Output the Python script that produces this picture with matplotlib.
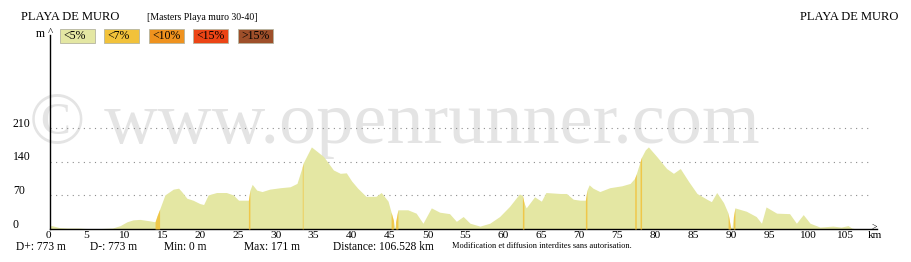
# ------------------------------------------------------------
# Elevation profile : Playa de Muro (openrunner style)
# ------------------------------------------------------------

import numpy as np
import matplotlib.pyplot as plt
import matplotlib.transforms as mtransforms
from matplotlib.patches import Rectangle

# ------------------------------------------------------------
# Step 1 : Data
# ------------------------------------------------------------

distance_km = [0.0, 0.5, 1.0, 1.5, 2.5, 4.0, 5.0, 7.0, 8.5, 9.5,
               10.4, 11.2, 12.1, 13.4, 14.1, 14.4, 14.7, 15.4, 16.5, 17.2,
               17.6, 18.3, 19.1, 20.0, 20.5, 21.1, 22.2, 23.5, 24.4, 25.1,
               26.4, 26.6, 26.9, 27.5, 28.2, 29.2, 30.6, 31.9, 32.8, 33.5,
               33.6, 34.5, 34.7, 36.3, 37.6, 38.5, 39.3, 40.0, 40.8, 41.9,
               43.2, 43.9, 44.8, 45.2, 45.5, 45.7, 45.8, 46.1, 47.4, 48.5,
               49.4, 50.5, 51.6, 52.9, 53.8, 54.7, 55.6, 56.9, 58.2, 59.5,
               60.8, 62.1, 62.5, 62.7, 63.0, 64.1, 65.0, 65.6, 67.5, 68.3,
               69.2, 70.1, 70.8, 71.0, 71.3, 71.8, 72.7, 74.0, 75.6, 76.7,
               77.3, 77.5, 78.0, 78.2, 78.7, 79.1, 80.2, 81.5, 82.4, 83.3,
               84.4, 85.5, 86.8, 87.4, 88.1, 89.0, 89.6, 89.9, 90.1, 90.3,
               90.5, 92.0, 93.3, 94.0, 94.6, 96.0, 97.7, 98.6, 99.5, 100.4,
               101.7, 103.4, 104.5, 105.4, 105.9, 106.5]

elevation_m = [6, 7, 5, 3, 2, 2, 1, 1, 2, 7,
               15, 19, 20, 17, 15, 29, 41, 71, 83, 85,
               78, 64, 60, 53, 51, 71, 76, 76, 71, 60,
               60, 81, 93, 81, 78, 83, 86, 88, 95, 130,
               137, 165, 171, 151, 123, 116, 117, 100, 85, 68,
               68, 76, 58, 35, 18, 2, 15, 40, 40, 33,
               12, 44, 35, 32, 16, 26, 12, 6, 12, 26,
               47, 73, 70, 55, 44, 67, 58, 76, 74, 74,
               62, 60, 60, 81, 92, 85, 78, 86, 90, 95,
               106, 115, 140, 150, 165, 171, 151, 126, 116, 126,
               99, 74, 62, 57, 76, 55, 33, 5, 2, 25,
               44, 37, 26, 12, 46, 33, 32, 12, 30, 12,
               4, 6, 4, 7, 2, 0]

# steeper (<7%) sections, start / end km
steep_sections = [(14.1, 14.7), (26.4, 26.6), (33.5, 33.6), (45.2, 45.5),
                  (45.8, 46.1), (62.5, 62.7), (70.8, 71.0), (77.3, 77.5),
                  (78.0, 78.2), (89.6, 89.9), (90.3, 90.5)]

x_ticks = list(range(0, 110, 5))
y_ticks = [0, 70, 140, 210]

legend_labels = ["<5%", "<7%", "<10%", "<15%", ">15%"]
legend_colors = ["#e4e7a3", "#f2c23a", "#ef921e", "#ec4415", "#9e4f2a"]

stats = ["D+: 773 m", "D-: 773 m", "Min: 0 m", "Max: 171 m",
         "Distance: 106.528 km"]
stats_x = [16, 90, 164, 244, 333]

km = np.array(distance_km)
ele = np.array(elevation_m)

# ------------------------------------------------------------
# Step 2 : Figure and axes (pixel based layout)
# ------------------------------------------------------------

W, H = 912, 262
plt.rcParams["font.family"] = ["Liberation Serif", "DejaVu Serif"]

fig = plt.figure(figsize=(W / 100, H / 100), dpi=100)
fig.patch.set_facecolor("white")


def px(x, y):
    return x / W, 1 - y / H


px_per_km = 7.59
px_per_m = 0.48
x_left = 0.26

ax = fig.add_axes([50 / W, (H - 229) / H, (877 - 50) / W, (229 - 35) / H])
ax.patch.set_alpha(0)
ax.set_xlim(x_left, x_left + (877 - 50) / px_per_km)
ax.set_ylim(0, (229 - 35) / px_per_m)

for side in ["top", "right"]:
    ax.spines[side].set_visible(False)
ax.spines["left"].set_linewidth(1.0)
ax.spines["bottom"].set_linewidth(1.0)
ax.set_xticks([])
ax.set_yticks([])

# ------------------------------------------------------------
# Step 3 : Watermark
# ------------------------------------------------------------

fig.text(*px(29, 143), "\u00a9 www.openrunner.com", fontsize=53.5,
         color="#e4e4e4", ha="left", va="baseline", zorder=-1)

# ------------------------------------------------------------
# Step 4 : Grid lines and profile
# ------------------------------------------------------------

grid_end = (868 - 48) / px_per_km
for v in y_ticks[1:]:
    ax.plot([x_left, grid_end], [v, v], color="#8c8c8c",
            linestyle=(0, (1, 4)), linewidth=0.8, zorder=1)

ax.fill_between(km, ele, 0, color=legend_colors[0], linewidth=0, zorder=2)

for a, b in steep_sections:
    mask = (km >= a) & (km <= b)
    ax.fill_between(km, ele, 0, where=mask, color=legend_colors[1],
                    alpha=0.85, linewidth=0, zorder=3)

# ------------------------------------------------------------
# Step 5 : Axis labels
# ------------------------------------------------------------

label_offset = mtransforms.offset_copy(ax.transData, fig=fig, x=0, y=4.5,
                                       units="dots")
y_trans = mtransforms.blended_transform_factory(fig.transFigure, label_offset)
for v in y_ticks:
    ax.text(13 / W, v, str(v), transform=y_trans, fontsize=8.5,
            ha="left", va="center", clip_on=False)

x_trans = mtransforms.blended_transform_factory(ax.transData, fig.transFigure)
for t in x_ticks:
    ax.text(t, 1 - 236 / H, str(t), transform=x_trans, fontsize=8.2,
            ha="center", va="center", clip_on=False)

fig.text(*px(868, 236), "km", fontsize=8, ha="left", va="center")
fig.text(*px(874, 227.5), ">", fontsize=7, ha="center", va="center")
fig.text(*px(50.5, 33), "^", fontsize=8, ha="center", va="center")
fig.text(*px(36, 34), "m", fontsize=8.5, ha="left", va="center")

# ------------------------------------------------------------
# Step 6 : Titles, legend and statistics
# ------------------------------------------------------------

fig.text(*px(21, 17), "PLAYA DE MURO", fontsize=9, ha="left", va="center")
fig.text(*px(898, 17), "PLAYA DE MURO", fontsize=9, ha="right", va="center")
fig.text(*px(147, 17), "[Masters Playa muro 30-40]", fontsize=7,
         ha="left", va="center")

for i, (lab, col) in enumerate(zip(legend_labels, legend_colors)):
    x0 = 60 + i * 44.5
    fig.patches.append(Rectangle(px(x0, 43), 35 / W, 14 / H,
                                 transform=fig.transFigure,
                                 facecolor=col, edgecolor="#b5b5a0",
                                 linewidth=0.6))
    fig.text(*px(x0 + 3, 36), lab, fontsize=8.5, ha="left", va="center")

for s, x in zip(stats, stats_x):
    fig.text(*px(x, 246.5), s, fontsize=8.3, ha="left", va="center")

fig.text(*px(452, 246.5),
         "Modification et diffusion interdites sans autorisation.",
         fontsize=6, ha="left", va="center")

fig.savefig("out.png", dpi=100, facecolor="white")
